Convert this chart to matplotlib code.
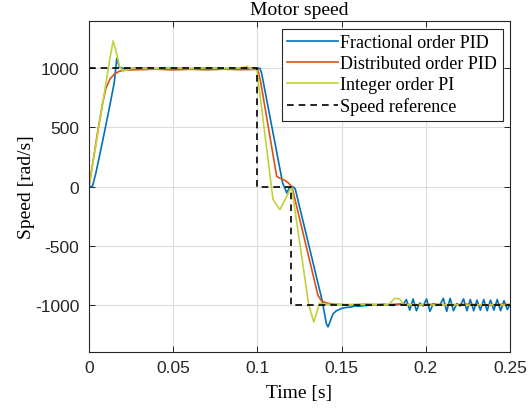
import matplotlib
matplotlib.use("Agg")
import matplotlib.pyplot as plt

plt.rcParams["axes.unicode_minus"] = False

# values (time in s, speed in rad/s)
t_frac = [0, 0.002, 0.004, 0.008, 0.012, 0.015, 0.0165, 0.018, 0.020, 0.023,
          0.03, 0.04, 0.05, 0.06, 0.07, 0.08, 0.09, 0.1, 0.1015, 0.1025,
          0.115, 0.1165, 0.1175, 0.119, 0.121, 0.1225, 0.1384, 0.141, 0.142,
          0.1435, 0.145, 0.147, 0.150, 0.153, 0.156, 0.158, 0.160, 0.165,
          0.170, 0.175, 0.180, 0.1845,
          0.1865, 0.1885, 0.1905, 0.1925, 0.1945, 0.1965, 0.1985, 0.2005,
          0.2025, 0.2045, 0.2065, 0.2085, 0.2105, 0.2125, 0.2145, 0.2165,
          0.2185, 0.2205, 0.2225, 0.2245, 0.2265, 0.2285, 0.2305, 0.2325,
          0.2345, 0.2365, 0.2385, 0.2405, 0.2425, 0.2445, 0.2465, 0.2485, 0.25]
v_frac = [0, 0, 110, 380, 660, 880, 1085, 1010, 1000, 995,
          1003, 997, 1004, 996, 1003, 997, 1002, 1000, 1000, 960,
          30, -20, -55, -10, 0, -20, -958, -1160, -1186,
          -1130, -1075, -1050, -1030, -1022, -1018, -1008, -1012, -1005,
          -1000, -995, -1005, -995,
          -1000, -955, -1045, -950, -1050, -985, -1010, -950,
          -1055, -990, -1005, -1000, -945, -1055, -945, -1050,
          -990, -1010, -950, -1050, -955, -1050, -960, -1045,
          -955, -1050, -960, -1045, -955, -1050, -965, -1040, -1000]

t_dist = [0, 0.002, 0.005, 0.008, 0.010, 0.0125, 0.015, 0.018, 0.022, 0.03,
          0.04, 0.05, 0.06, 0.07, 0.08, 0.09, 0.1003, 0.102, 0.1115, 0.1135,
          0.116, 0.118, 0.1205, 0.136, 0.138, 0.141, 0.146, 0.155, 0.165,
          0.175, 0.185, 0.195, 0.205, 0.215, 0.225, 0.235, 0.245, 0.25]
v_dist = [0, 180, 450, 700, 830, 910, 950, 975, 985, 988,
          992, 986, 991, 987, 992, 988, 990, 880, 85, 70,
          55, 35, 0, -920, -965, -985, -995, -1000, -995,
          -1000, -993, -1002, -995, -1000, -995, -1002, -996, -998]

t_int = [0, 0.003, 0.006, 0.009, 0.012, 0.0143, 0.016, 0.018, 0.020, 0.022,
         0.025, 0.03, 0.04, 0.05, 0.06, 0.07, 0.08, 0.09, 0.094, 0.096,
         0.0996, 0.1093, 0.1134, 0.1165, 0.1203, 0.1305, 0.1335, 0.137,
         0.140, 0.150, 0.160, 0.170, 0.178, 0.1815, 0.1845, 0.187, 0.195,
         0.205, 0.215, 0.225, 0.235, 0.245, 0.25]
v_int = [0, 260, 520, 780, 1050, 1231, 1150, 1020, 975, 985,
         998, 1000, 996, 1004, 997, 1003, 998, 1002, 1015, 995,
         1000, -110, -195, -110, 0, -1000, -1145, -985,
         -995, -1000, -995, -1000, -1000, -945, -950, -1000, -998,
         -1002, -997, -1002, -998, -1001, -1000]

t_ref = [0, 0.1, 0.1, 0.12, 0.12, 0.25]
v_ref = [1000, 1000, 0, 0, -1000, -1000]

xticks = [0, 0.05, 0.1, 0.15, 0.2, 0.25]
xtick_labels = ["0", "0.05", "0.1", "0.15", "0.2", "0.25"]
yticks = [-1000, -500, 0, 500, 1000]

serif = "Liberation Serif"
sans = "Liberation Sans"

fig = plt.figure(figsize=(5.30, 4.14), dpi=100)
ax = fig.add_axes([0.168, 0.147, 0.794, 0.800])

ax.plot(t_frac, v_frac, color="#0072BD", lw=1.2, label="Fractional order PID")
ax.plot(t_dist, v_dist, color="#D95319", lw=1.2, label="Distributed order PID")
ax.plot(t_int, v_int, color="#C3D13A", lw=1.2, label="Integer order PI")
ax.plot(t_ref, v_ref, color="black", lw=1.2, ls=(0, (4, 3)), label="Speed reference")

ax.set_xlim(0, 0.25)
ax.set_ylim(-1400, 1400)
ax.set_xticks(xticks)
ax.set_xticklabels(xtick_labels)
ax.set_yticks(yticks)
ax.grid(True, color="#dcdcdc", lw=0.8)
ax.set_axisbelow(True)

ax.tick_params(direction="in", top=True, right=True, length=4, width=0.7,
               colors="#262626", labelsize=12.5)
ax.tick_params(axis="x", pad=6)
ax.tick_params(axis="y", pad=7)
for lab in ax.get_xticklabels() + ax.get_yticklabels():
    lab.set_fontfamily(sans)
    lab.set_color("#262626")
for sp in ax.spines.values():
    sp.set_color("#262626")
    sp.set_linewidth(0.8)

ax.set_title("Motor speed", fontfamily=serif, fontsize=14, pad=5)
ax.set_xlabel("Time [s]", fontfamily=serif, fontsize=14, labelpad=6)
ax.set_ylabel("Speed [rad/s]", fontfamily=serif, fontsize=14, labelpad=0)

leg = ax.legend(loc="upper right", bbox_to_anchor=(0.983, 0.976),
                prop={"family": serif, "size": 13}, frameon=True, fancybox=False,
                framealpha=1, edgecolor="#262626", handlelength=2.8,
                handletextpad=0.15, borderpad=0.3, labelspacing=0.22, borderaxespad=0)
leg.get_frame().set_linewidth(0.8)

fig.savefig("out.png", dpi=100)
